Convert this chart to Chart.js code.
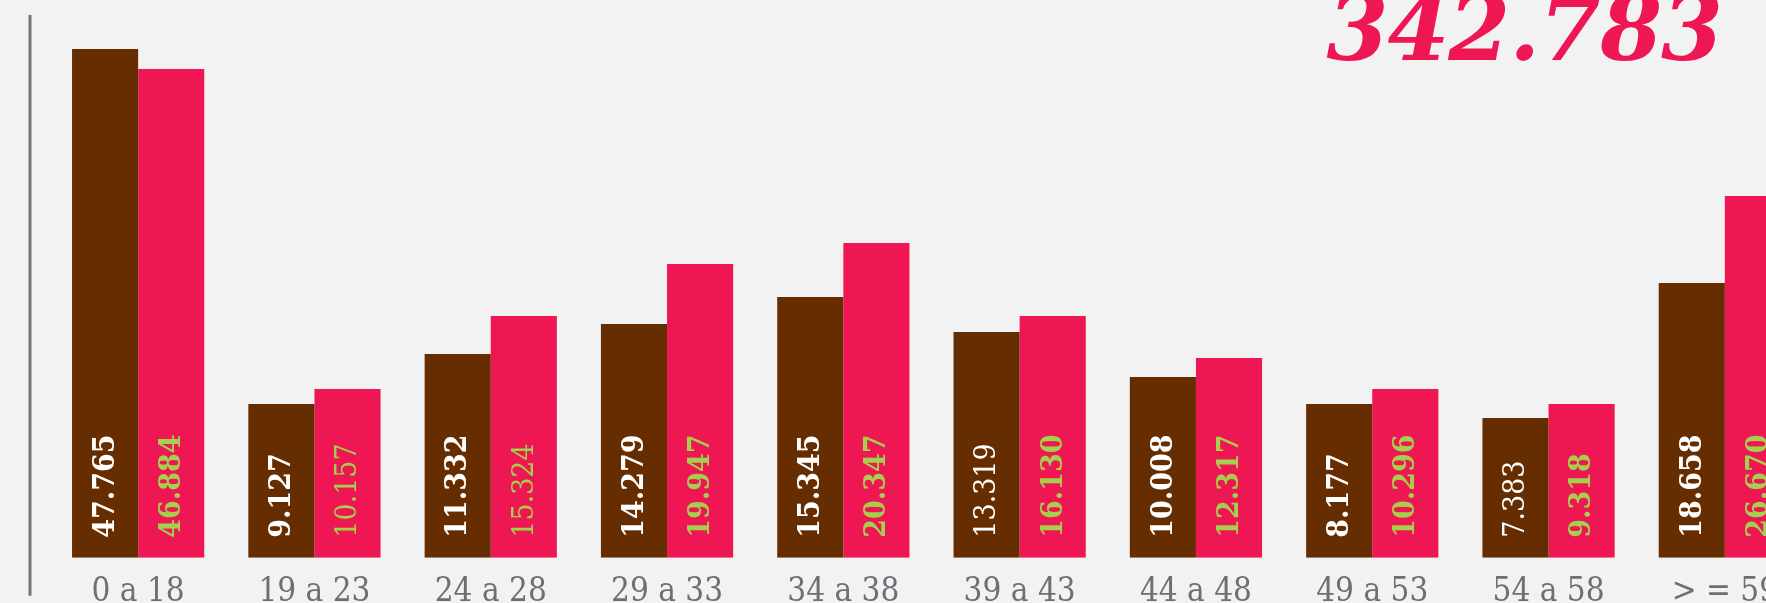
<!DOCTYPE html>
<html lang="pt">
<head>
<meta charset="utf-8">
<title>Faixa etária</title>
<script src="https://cdn.jsdelivr.net/npm/chart.js@4.4.1/dist/chart.umd.min.js"></script>
<style>
  html, body { margin: 0; padding: 0; }
  body {
    width: 1766px; height: 603px; overflow: hidden; position: relative;
    background: #f2f2f2;
  }
  #wrap { position: absolute; left: 0; top: 0; width: 1813px; height: 630px; }
  #total {
    position: absolute; right: 44px; top: -16px;
    font-family: "DejaVu Serif", serif; font-weight: bold; font-style: italic;
    font-size: 89px; line-height: 89px; color: #ee1753; letter-spacing: -1px;
    white-space: nowrap;
  }
</style>
</head>
<body>
<div id="total">342.783</div>
<div id="wrap"><canvas id="chart"></canvas></div>
<script>
// ---------------------------------------------------------------
//  dados
// ---------------------------------------------------------------
const faixas = ['0 a 18', '19 a 23', '24 a 28', '29 a 33', '34 a 38',
                '39 a 43', '44 a 48', '49 a 53', '54 a 58', '> = 59'];

// números impressos nas barras
const rotulosA = ['47.765', '9.127', '11.332', '14.279', '15.345',
                  '13.319', '10.008', '8.177', '7.383', '18.658'];
const rotulosB = ['46.884', '10.157', '15.324', '19.947', '20.347',
                  '16.130', '12.317', '10.296', '9.318', '26.670'];

// altura das barras como desenhadas no original (não proporcional aos rótulos)
const alturaA = [47.77, 14.43, 19.13, 21.94, 24.48, 21.19, 16.97, 14.43, 13.12, 25.79];
const alturaB = [45.89, 15.84, 22.69, 27.58, 29.55, 22.69, 18.75, 15.84, 14.43, 33.96];

// rótulos em peso normal (o resto é negrito)
const leveA = [false, false, false, false, false, true, false, false, true, false];
const leveB = [false, true, true, false, false, false, false, false, false, false];

// ---------------------------------------------------------------
//  plugins
// ---------------------------------------------------------------
const FONTE = '"DejaVu Serif Condensed", "DejaVu Serif", serif';

const eixoPlugin = {
  id: 'eixo',
  beforeDatasetsDraw(chart) {
    const { ctx, chartArea } = chart;
    const x = chartArea.left - 20;
    ctx.save();
    ctx.strokeStyle = '#74747b';
    ctx.lineWidth = 3;
    ctx.beginPath();
    ctx.moveTo(x, 15);
    ctx.lineTo(x, chartArea.bottom + 38);
    ctx.stroke();
    ctx.restore();
  }
};

const rotuloPlugin = {
  id: 'rotulos',
  afterDatasetsDraw(chart) {
    const { ctx } = chart;
    const textos = [rotulosA, rotulosB];
    const leves = [leveA, leveB];
    const cores = ['#ffffff', '#a5cf4c'];
    chart.data.datasets.forEach((ds, i) => {
      chart.getDatasetMeta(i).data.forEach((bar, j) => {
        ctx.save();
        ctx.translate(bar.x, bar.base - 20);
        ctx.rotate(-Math.PI / 2);
        ctx.font = (leves[i][j] ? 'normal ' : 'bold ') + '30px ' + FONTE;
        ctx.fillStyle = cores[i];
        ctx.textAlign = 'left';
        ctx.textBaseline = 'middle';
        ctx.fillText(textos[i][j], 0, 1);
        ctx.restore();
      });
    });
  }
};

// ---------------------------------------------------------------
//  gráfico
// ---------------------------------------------------------------
new Chart(document.getElementById('chart'), {
  type: 'bar',
  data: {
    labels: faixas,
    datasets: [
      { label: 'A', data: alturaA, backgroundColor: '#662d00' },
      { label: 'B', data: alturaB, backgroundColor: '#ee1753' }
    ]
  },
  options: {
    responsive: true, maintainAspectRatio: false, animation: false,
    layout: { padding: { left: 50, top: 4, right: 0, bottom: 0 } },
    datasets: { bar: { categoryPercentage: 0.75, barPercentage: 1 } },
    plugins: { legend: { display: false }, tooltip: { enabled: false } },
    scales: {
      x: {
        grid: { display: false, drawTicks: false },
        border: { display: false },
        ticks: { color: '#6e6f75', padding: 15, font: { family: FONTE, size: 33 } },
        afterFit(scale) { scale.height = 72.3; }
      },
      y: { display: false, min: 0, max: 52 }
    }
  },
  plugins: [eixoPlugin, rotuloPlugin]
});
</script>
</body>
</html>
